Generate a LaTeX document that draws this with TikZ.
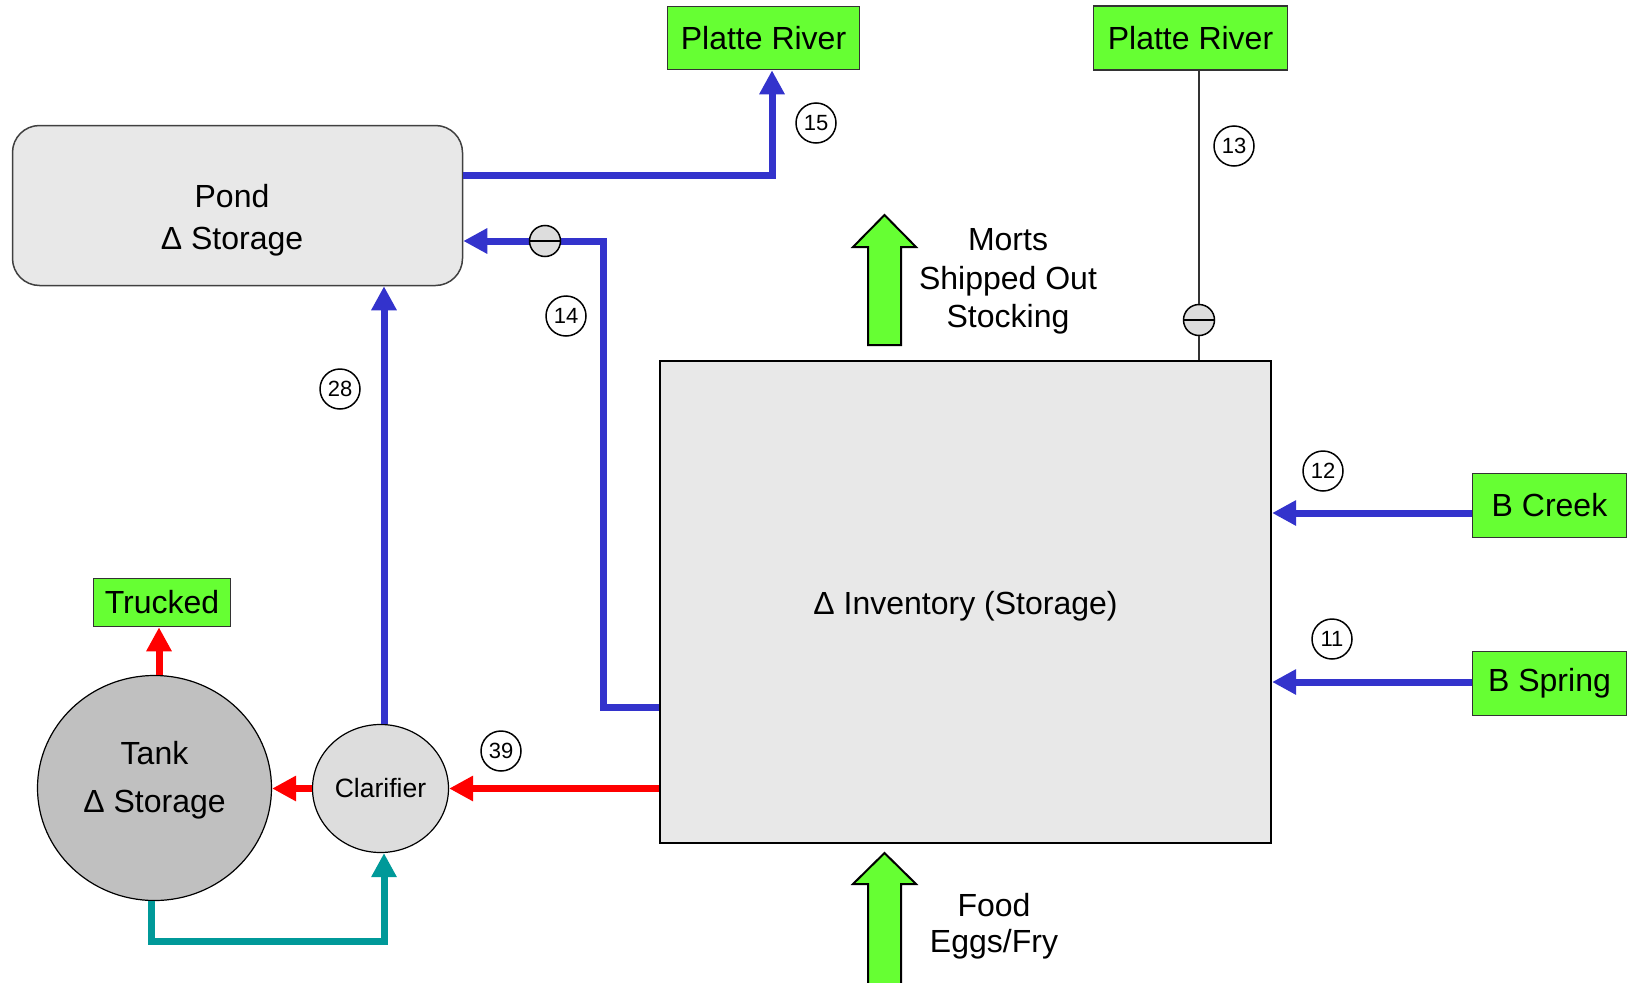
\documentclass[tikz,border=0pt]{standalone}
\usepackage{fontspec}
\setmainfont{Liberation Sans}
\usetikzlibrary{arrows.meta,shapes.geometric}
\definecolor{boxgreen}{HTML}{66FF33}
\definecolor{flowblue}{HTML}{3333CC}
\definecolor{flowred}{HTML}{FF0000}
\definecolor{flowteal}{HTML}{009999}
\definecolor{lightgrey}{HTML}{E8E8E8}
\definecolor{midgrey}{HTML}{DDDDDD}
\definecolor{tankgrey}{HTML}{C0C0C0}
\begin{document}
\begin{tikzpicture}[x=1pt,y=-1pt,
  greenbox/.style={draw=black!80, line width=1.6pt, fill=boxgreen, inner sep=0pt,
    font=\fontsize{32}{38}\selectfont},
  numlabel/.style={circle, draw=black, line width=1.5pt, minimum size=40pt, inner sep=0pt,
    font=\fontsize{22}{24}\selectfont},
  valve/.style={circle, draw=black, line width=1.5pt, fill=midgrey, minimum size=31pt, inner sep=0pt},
  flow/.style={line width=7pt, line join=miter, -{Triangle[length=24pt,width=24pt]}},
  bigtext/.style={align=center, inner sep=0pt},
  fatarrow/.style={draw=black, line width=2pt, line join=miter}
]
\useasboundingbox (0,0) rectangle (1629,982);

% ---- nodes ----
\node[greenbox, minimum width=192pt, minimum height=63pt] (pr1) at (763.5,38) {Platte River};
\node[greenbox, minimum width=194pt, minimum height=64pt] (pr2) at (1190.5,38) {Platte River};
\node[greenbox, minimum width=154pt, minimum height=64pt] (bcreek) at (1549.5,505.5) {B Creek};
\node[greenbox, minimum width=154pt, minimum height=64pt] (bspring) at (1549.5,683.5) {B Spring};
\node[greenbox, minimum width=137pt, minimum height=48pt] (trucked) at (162,602.5) {Trucked};

\node[draw=black!75, line width=1.5pt, fill=lightgrey, rounded corners=27pt,
  minimum width=450pt, minimum height=160pt, inner sep=0pt] (pond) at (237.5,205.5) {};
\node[bigtext, font=\fontsize{32}{42}\selectfont] (pondtext) at (232,220.5) {Pond\\Δ Storage};

\node[draw=black, line width=2.2pt, fill=lightgrey, minimum width=611pt, minimum height=482pt,
  inner sep=0pt, text height=31pt, text depth=7pt, font=\fontsize{32}{38}\selectfont] (inv) at (965.5,602) {Δ Inventory (Storage)};

\node[ellipse, draw=black, line width=1.2pt, fill=tankgrey, minimum width=234pt, minimum height=225pt,
  inner sep=0pt] (tank) at (154.5,788) {};
\node[bigtext, font=\fontsize{32}{48}\selectfont] (tanktext) at (154.5,780.5) {Tank\\Δ Storage};

\node[ellipse, draw=black, line width=1.2pt, fill=midgrey, minimum width=136pt, minimum height=128pt,
  inner sep=0pt, font=\fontsize{26.5}{30}\selectfont] (clar) at (380.5,788.5) {Clarifier};

\node[bigtext, font=\fontsize{32}{38.5}\selectfont] (morts) at (1008,281.5) {Morts\\Shipped Out\\Stocking};
\node[bigtext, font=\fontsize{32}{36.5}\selectfont] (food) at (994,926) {Food\\Eggs/Fry};

% ---- helper coordinates ----
\coordinate (c15) at (772,175);
\coordinate (c14a) at (603,241);
\coordinate (c14b) at (603,707);
\coordinate (a12) at (1400,513);
\coordinate (a11) at (1400,682);
\coordinate (ctr) at (159,0);
\coordinate (tl) at (151,941);
\coordinate (tr) at (384,941);

% ---- connectors ----
\draw[flow, flowblue] (pond.east |- c15) -- (c15) -- (pr1.south -| c15);
\draw[flow, flowblue] (inv.west |- c14b) -- (c14b) -- (c14a) -- (pond.east |- c14a);
\draw[flow, flowblue] (clar.north -| tr) -- (pond.south -| tr);
\draw[flow, flowblue] (bcreek.west |- a12) -- (inv.east |- a12);
\draw[flow, flowblue] (bspring.west |- a11) -- (inv.east |- a11);
\draw[flow, flowred] (inv.west |- clar.east) -- (clar.east);
\draw[flow, flowred] (clar.west) -- (tank.east |- clar.west);
\draw[flow, flowred] (tank.north -| ctr) -- (trucked.south -| ctr);
\draw[flow, flowteal] (tank.south -| tl) -- (tl) -- (tr) -- (clar.south -| tr);

\node[valve] (v14) at (545,241) {};
\draw[line width=1.2pt] (v14.west) -- (v14.east);

\node[valve] (v13) at (1199,320) {};
\draw[line width=1.2pt] (v13.west) -- (v13.east);
\draw[line width=1.2pt, black!80] (pr2.south -| v13) -- (v13.north);
\draw[line width=1.2pt, black!80] (v13.south) -- (inv.north -| v13);

% ---- number labels ----
\node[numlabel] (n15) at (816,123) {15};
\node[numlabel] (n13) at (1234,146) {13};
\node[numlabel] (n14) at (566,316) {14};
\node[numlabel] (n28) at (340,389) {28};
\node[numlabel] (n39) at (501,751) {39};
\node[numlabel] (n12) at (1323,471) {12};
\node[numlabel] (n11) at (1332,639) {11};

% ---- big green arrows ----
\draw[fatarrow, fill=boxgreen] (884.5,215) -- (916,247) -- (901,247) -- (901,345) -- (868,345)
  -- (868,247) -- (853,247) -- cycle;
\fill[boxgreen] (884.5,853) -- (916,884) -- (901,884) -- (901,990) -- (868,990) -- (868,884)
  -- (853,884) -- cycle;
\draw[fatarrow] (868,990) -- (868,884) -- (853,884) -- (884.5,853) -- (916,884) -- (901,884) -- (901,990);
\end{tikzpicture}
\end{document}
